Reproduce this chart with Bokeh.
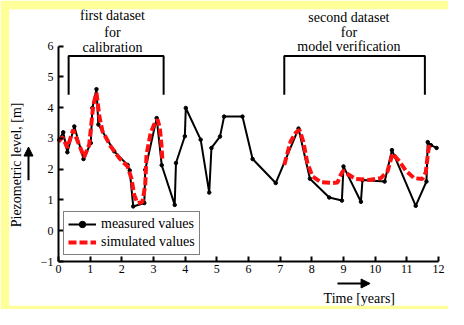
import math
import numpy as np
from bokeh.plotting import figure
from bokeh.models import (Range1d, FixedTicker, Label, Arrow, NormalHead,
                          Legend, LegendItem)
from bokeh.embed import file_html
from bokeh.resources import INLINE

# ---------------- data ----------------
meas_t = [0.02, 0.15, 0.28, 0.50, 0.79, 1.02, 1.07, 1.20, 1.26, 1.76,
          2.18, 2.25, 2.36, 2.71, 2.74, 3.10, 3.26, 3.67, 3.71, 3.99,
          4.02, 4.49, 4.76, 4.83, 5.10, 5.23, 5.81, 6.13, 6.86, 7.58,
          7.94, 8.55, 8.95, 9.00, 9.55, 9.60, 10.30, 10.53, 11.28, 11.62,
          11.66, 11.76, 11.94]
meas_v = [2.95, 3.20, 2.55, 3.39, 2.33, 2.85, 3.99, 4.60, 3.45, 2.58,
          2.14, 1.96, 0.79, 0.90, 1.98, 3.66, 2.13, 0.84, 2.20, 3.07,
          3.99, 2.96, 1.24, 2.69, 3.06, 3.71, 3.71, 2.33, 1.55, 3.32,
          1.69, 1.08, 0.98, 2.09, 0.94, 1.65, 1.60, 2.62, 0.81, 1.60,
          2.88, 2.78, 2.69]

sim_calib_t = [0.00, 0.13, 0.28, 0.46, 0.81, 0.97, 1.10, 1.20, 1.29, 1.39,
               1.65, 1.92, 2.18, 2.30, 2.39, 2.49, 2.65, 2.74, 2.78, 2.91,
               3.04, 3.13, 3.20, 3.25, 3.28]
sim_calib_v = [2.90, 3.04, 2.69, 3.28, 2.39, 2.79, 4.10, 4.48, 3.72, 3.23,
               2.74, 2.36, 2.09, 1.71, 1.17, 0.90, 0.93, 1.49, 2.47, 3.18,
               3.50, 3.61, 3.34, 2.80, 2.33]

sim_verif_t = [7.13, 7.33, 7.49, 7.61, 7.73, 7.86, 8.02, 8.28, 8.65, 8.81,
               8.91, 8.99, 9.18, 9.39, 9.81, 10.18, 10.39, 10.55, 10.76, 10.97,
               11.23, 11.49, 11.60, 11.66, 11.71]
sim_verif_v = [2.14, 2.90, 3.18, 3.28, 2.90, 2.20, 1.77, 1.58, 1.55, 1.57,
               1.81, 1.95, 1.81, 1.68, 1.65, 1.71, 1.93, 2.51, 2.26, 1.95,
               1.71, 1.68, 1.90, 2.46, 2.78]

x_ticks = list(range(0, 13))
y_ticks = list(range(-1, 7))

calib_period = [0.32, 3.32]
verif_period = [7.13, 11.57]
bracket_top = 5.68
bracket_bottom = 4.42

FONT = "'Liberation Serif', 'Times New Roman', serif"
YELLOW = "#FFFF99"

# ---------------- figure ----------------
p = figure(width=448, height=309, output_backend="svg", toolbar_location=None,
           title=None,
           x_range=Range1d(-1.547, 12.316), y_range=Range1d(-2.43, 7.19),
           min_border_left=9, min_border_right=0, min_border_top=9,
           min_border_bottom=4,
           background_fill_color="white", border_fill_color=YELLOW,
           outline_line_color=None)
p.grid.visible = False

for ax, loc, bnds, ticks in ((p.xaxis[0], -1, (0, 12), x_ticks),
                             (p.yaxis[0], 0, (-1, 6), y_ticks)):
    ax.fixed_location = loc
    ax.bounds = bnds
    ax.ticker = FixedTicker(ticks=ticks)
    ax.minor_tick_line_color = None
    ax.major_tick_in = 5
    ax.major_tick_out = 0
    ax.axis_line_width = 2
    ax.axis_line_color = "black"
    ax.major_tick_line_width = 2
    ax.major_tick_line_color = "black"
    ax.major_label_text_font = FONT
    ax.major_label_text_font_size = "12px"
    ax.major_label_text_color = "black"
p.xaxis[0].major_label_standoff = 3
p.yaxis[0].major_label_standoff = 5

# brackets marking the two periods
for a, b in (calib_period, verif_period):
    p.line([a, a, b, b], [bracket_bottom, bracket_top, bracket_top, bracket_bottom],
           line_color="black", line_width=2)

# series
meas_line = p.line(meas_t, meas_v, line_color="black", line_width=2)
meas_pts = p.scatter(meas_t, meas_v, size=3.5, marker="circle",
                     fill_color="black", line_color="black")
sim_t = sim_calib_t + [float("nan")] + sim_verif_t
sim_v = sim_calib_v + [float("nan")] + sim_verif_v
sim_line = p.line(sim_t, sim_v, line_color="#FF1010", line_width=4,
                  line_dash="8 3")

# annotations text
def add_text(x, y, txt, angle=0.0):
    p.add_layout(Label(x=x, y=y, text=txt, text_align="center",
                       text_baseline="middle", text_font=FONT,
                       text_font_size="14px", text_color="black",
                       angle=angle))

add_text(1.705, 6.99, "first dataset")
add_text(1.705, 6.45, "for")
add_text(1.705, 5.96, "calibration")
add_text(9.17, 6.93, "second dataset")
add_text(9.17, 6.45, "for")
add_text(9.17, 5.98, "model verification")

add_text(9.50, -2.20, "Time [years]")
add_text(-1.33, 2.14, "Piezometric level, [m]", angle=math.pi / 2)

p.add_layout(Arrow(end=NormalHead(size=9, fill_color="black", line_color="black"),
                   x_start=8.81, y_start=-1.715, x_end=9.84, y_end=-1.715,
                   line_width=2, line_color="black"))
p.add_layout(Arrow(end=NormalHead(size=9, fill_color="black", line_color="black"),
                   x_start=-0.947, y_start=1.64, x_end=-0.947, y_end=2.72,
                   line_width=2, line_color="black"))

legend = Legend(items=[LegendItem(label="measured values", renderers=[meas_line, meas_pts]),
                       LegendItem(label="simulated values", renderers=[sim_line])],
                location=(54, 50), orientation="vertical",
                border_line_color="black", border_line_width=1.5,
                background_fill_color="white", background_fill_alpha=1.0,
                label_text_font=FONT, label_text_font_size="14px",
                label_text_color="black",
                padding=4, spacing=2, margin=0,
                glyph_width=28, glyph_height=16, label_height=16,
                label_standoff=5)
p.add_layout(legend)

open("out.html", "w").write(file_html(p, INLINE, title="Piezometric level"))
